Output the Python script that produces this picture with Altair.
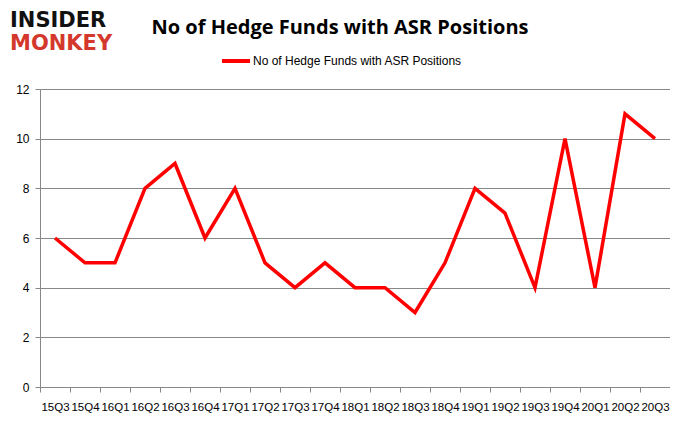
import altair as alt
import pandas as pd

quarters = ["15Q3", "15Q4", "16Q1", "16Q2", "16Q3", "16Q4", "17Q1", "17Q2", "17Q3", "17Q4",
            "18Q1", "18Q2", "18Q3", "18Q4", "19Q1", "19Q2", "19Q3", "19Q4", "20Q1", "20Q2", "20Q3"]
funds = [6, 5, 5, 8, 9, 6, 8, 5, 4, 5, 4, 4, 3, 5, 8, 7, 4, 10, 4, 11, 10]
series_name = "No of Hedge Funds with ASR Positions"

df = pd.DataFrame({"quarter": quarters, "funds": funds, "series": series_name})

W, H = 630, 298

line = alt.Chart(df).mark_line(color="#ff0000", strokeWidth=3.5, strokeJoin="miter").encode(
    x=alt.X("quarter:N", sort=quarters, title=None,
            scale=alt.Scale(paddingInner=0, paddingOuter=0.0),
            axis=alt.Axis(tickBand="extent", labelAngle=0, labelOverlap=False,
                          labelFont="Liberation Sans", labelFontSize=11.5, labelColor="#000000",
                          labelPadding=9, tickColor="#888888", tickSize=5,
                          domainColor="#888888", grid=False)),
    y=alt.Y("funds:Q", title=None,
            scale=alt.Scale(domain=[0, 12], nice=False),
            axis=alt.Axis(values=[0, 2, 4, 6, 8, 10, 12], grid=True, gridColor="#888888",
                          labelFont="Liberation Sans", labelFontSize=12, labelColor="#000000",
                          tickColor="#888888", tickSize=5, labelPadding=6,
                          domainColor="#888888")),
)

legend_line = alt.Chart(df).mark_rule(color="#ff0000", strokeWidth=4).encode(
    x=alt.value(182), x2=alt.value(210), y=alt.value(-28)
)
legend_text = alt.Chart(pd.DataFrame({"t": [series_name]})).mark_text(
    align="left", baseline="middle", font="Liberation Sans", fontSize=12, color="#000000"
).encode(text="t:N", x=alt.value(213), y=alt.value(-28))

title_text = alt.Chart(pd.DataFrame({"t": ["No of Hedge Funds with ASR Positions"]})).mark_text(
    align="center", baseline="middle", font="Open Sans", fontSize=20, fontWeight="bold",
    color="#000000"
).encode(text="t:N", x=alt.value(300), y=alt.value(-61))

logo1 = alt.Chart(pd.DataFrame({"t": ["INSIDER"]})).mark_text(
    align="left", baseline="middle", font="DejaVu Sans", fontSize=21, fontWeight="bold",
    color="#111111"
).encode(text="t:N", x=alt.value(-30), y=alt.value(-68))
logo2 = alt.Chart(pd.DataFrame({"t": ["MONKEY"]})).mark_text(
    align="left", baseline="middle", font="DejaVu Sans", fontSize=21, fontWeight="bold",
    color="#d4382c"
).encode(text="t:N", x=alt.value(-30), y=alt.value(-45))

chart = alt.layer(line, legend_line, legend_text, title_text, logo1, logo2).properties(
    width=W, height=H,
    autosize=alt.AutoSizeParams(type="none"),
    padding={"left": 32, "top": 81, "right": 0, "bottom": 36},
).configure_view(stroke=None).configure(background="#ffffff")

chart.save("out.html", embed_options={"renderer": "svg", "actions": False})
